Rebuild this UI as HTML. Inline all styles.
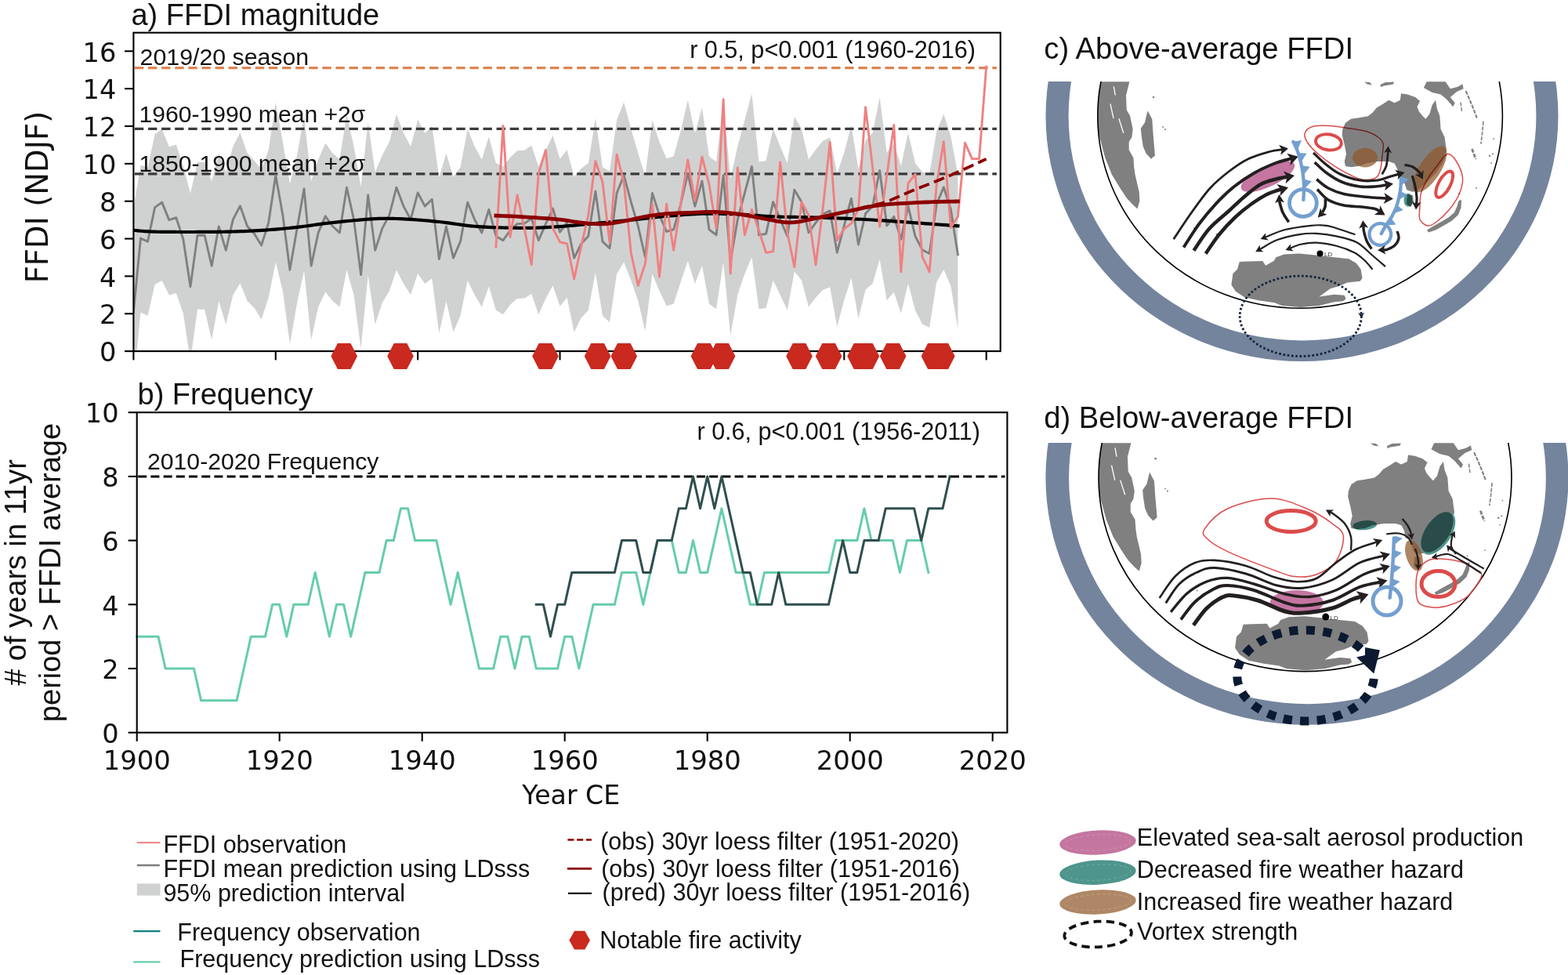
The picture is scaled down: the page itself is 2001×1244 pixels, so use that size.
<!DOCTYPE html><html><head><meta charset="utf-8"><title>FFDI figure</title>
<style>html,body{margin:0;padding:0;background:#fff;}svg{display:block;}</style></head><body>
<svg width="2001" height="1244" viewBox="0 0 2001 1244">
<rect width="2001" height="1244" fill="#fff"/>
<defs><clipPath id="clipA"><rect x="170.4" y="41.7" width="1106.3" height="406.4"/></clipPath></defs>
<g clip-path="url(#clipA)">
<polygon fill="#d0d2d1" points="170.4,265.36 179.47,210.76 188.54,213.32 197.61,171.29 206.68,164.83 215.75,187.32 224.81,184.45 233.88,211.8 242.95,246.77 252.02,206.94 261.09,206.94 270.16,231.36 279.23,195.69 288.3,219.85 297.37,186.84 306.44,169.37 315.5,195.21 324.57,205.02 333.64,216.1 342.71,190.91 351.78,130.38 360.85,181.1 369.92,234.28 378.99,199.04 388.06,147.36 397.12,231.36 406.19,203.59 415.26,182.53 424.33,195.21 433.4,203.59 442.47,145.93 451.54,186.84 460.61,237.89 469.68,155.74 478.75,219.85 487.82,198.08 496.88,181.1 505.95,145.93 515.02,169.85 524.09,186.84 533.16,152.63 542.23,169.85 551.3,161 560.37,226.37 569.44,195.69 578.5,225.54 587.57,213.32 596.64,164.83 605.71,186.84 614.78,203.59 623.85,174.16 632.92,207.89 641.99,212.49 651.06,200.72 660.13,192.34 669.2,191.86 678.26,185.4 687.33,212.49 696.4,192.34 705.47,172.72 714.54,202.87 723.61,190.91 732.68,225.54 741.75,214.99 750.82,207.89 759.88,150.71 768.95,213.32 778.02,218.32 787.09,153.1 796.16,130.38 805.23,164.35 814.3,195.21 823.37,224.84 832.44,153.1 841.51,181.1 850.58,202.15 859.64,199.52 868.71,166.98 877.78,127.74 886.85,169.85 895.92,137.55 904.99,199.52 914.06,206.46 923.13,130.38 932.2,228.03 941.27,186.84 950.33,153.1 959.4,119.13 968.47,206.46 977.54,205.02 986.61,164.35 995.68,186.84 1004.75,207.89 1013.82,148.8 1022.89,164.35 1031.96,203.59 1041.02,190.91 1050.09,179.66 1059.16,175.59 1068.23,221.51 1077.3,194.5 1086.37,159.8 1095.44,215.54 1104.51,179.18 1113.58,169.61 1122.65,124.16 1131.71,194.73 1140.78,183.01 1149.85,211.66 1158.92,169.61 1167.99,208.13 1177.06,219.57 1186.13,222.2 1195.2,167.46 1204.27,145.45 1213.34,173.68 1222.4,223.04 1222.4,419.39 1213.34,365.03 1204.27,344.12 1195.2,360.08 1186.13,417.95 1177.06,413.41 1167.99,395.97 1158.92,361.77 1149.85,399.77 1140.78,372.82 1131.71,383.23 1122.65,330.99 1113.58,361.77 1104.51,369.57 1095.44,406.47 1086.37,354.25 1077.3,383.01 1068.23,416.76 1059.16,366.59 1050.09,369.97 1041.02,379.75 1031.96,391.54 1022.89,357.68 1013.82,346.39 1004.75,395.73 995.68,376.14 986.61,357.68 977.54,392.93 968.47,394.33 959.4,328.22 950.33,349.39 941.27,376.14 932.2,428 923.13,334.59 914.06,394.33 904.99,387.68 895.92,338.98 886.85,361.96 877.78,333.04 868.71,359.71 859.64,387.68 850.58,390.17 841.51,371.19 832.44,349.39 823.37,422.5 814.3,383.67 805.23,357.68 796.16,334.59 787.09,349.39 778.02,411.26 768.95,402.64 759.88,347.71 750.82,395.73 741.75,405.51 732.68,423.7 723.61,379.75 714.54,390.86 705.47,364.26 696.4,381.05 687.33,401.21 678.26,374.89 669.2,380.62 660.13,381.05 651.06,388.8 641.99,401.21 632.92,395.73 623.85,365.42 614.78,391.54 605.71,376.14 596.64,358.04 587.57,402.64 578.5,423.7 569.44,384.11 560.37,425.13 551.3,355.14 542.23,361.96 533.16,349.05 524.09,376.14 515.02,361.96 505.95,344.44 496.88,371.19 487.82,386.33 478.75,413.89 469.68,351.27 460.61,444.99 451.54,376.14 442.47,344.44 433.4,391.54 424.33,383.67 415.26,372.41 406.19,391.54 397.12,433.75 388.06,345.41 378.99,387.23 369.92,438.77 360.85,371.19 351.78,334.59 342.71,379.75 333.64,407.43 324.57,392.93 315.5,383.67 306.44,361.58 297.37,376.14 288.3,413.89 279.23,384.11 270.16,433.75 261.09,394.79 252.02,394.79 242.95,460.3 233.88,400.01 224.81,374.06 215.75,376.56 206.68,358.04 197.61,363.1 188.54,402.64 179.47,398.58 170.4,492.36"/>
<line x1="171.9" y1="86.59" x2="1272" y2="86.59" stroke="#dd8452" stroke-width="3.2" stroke-dasharray="11.4 5.7"/>
<line x1="171.9" y1="164.4" x2="1272" y2="164.4" stroke="#3b3b3b" stroke-width="3.2" stroke-dasharray="11.4 5.7"/>
<line x1="171.9" y1="221.8" x2="1272" y2="221.8" stroke="#3b3b3b" stroke-width="3.2" stroke-dasharray="11.4 5.7"/>
<polyline fill="none" stroke="#808080" stroke-width="2.9" stroke-linejoin="round" stroke-linecap="square" points="170.4,397.86 179.47,304.07 188.54,308.14 197.61,264.6 206.68,258.14 215.75,280.62 224.81,277.75 233.88,305.51 242.95,365.8 252.02,300.24 261.09,300.24 270.16,339.24 279.23,289 288.3,319.38 297.37,280.15 306.44,262.68 315.5,288.52 324.57,298.33 333.64,312.92 342.71,284.21 351.78,223.68 360.85,274.4 369.92,344.27 378.99,292.35 388.06,240.67 397.12,339.24 406.19,296.89 415.26,275.84 424.33,288.52 433.4,296.89 442.47,239.23 451.54,280.15 460.61,350.49 469.68,249.04 478.75,319.38 487.82,291.39 496.88,274.4 505.95,239.23 515.02,263.16 524.09,280.15 533.16,245.93 542.23,263.16 551.3,254.31 560.37,330.63 569.44,289 578.5,329.19 587.57,308.14 596.64,258.14 605.71,280.15 614.78,296.89 623.85,267.47 632.92,301.2 641.99,306.7 651.06,294.02 660.13,285.65 669.2,285.17 678.26,278.71 687.33,306.7 696.4,285.65 705.47,266.03 714.54,296.18 723.61,284.21 732.68,329.19 741.75,311.01 750.82,301.2 759.88,244.02 768.95,308.14 778.02,316.75 787.09,246.41 796.16,223.68 805.23,257.66 814.3,288.52 823.37,328 832.44,246.41 841.51,274.4 850.58,295.46 859.64,292.83 868.71,260.29 877.78,221.05 886.85,263.16 895.92,230.86 904.99,292.83 914.06,299.76 923.13,223.68 932.2,333.5 941.27,280.15 950.33,246.41 959.4,212.44 968.47,299.76 977.54,298.33 986.61,257.66 995.68,280.15 1004.75,301.2 1013.82,242.11 1022.89,257.66 1031.96,296.89 1041.02,284.21 1050.09,272.97 1059.16,268.9 1068.23,322.25 1077.3,287.8 1086.37,253.11 1095.44,311.97 1104.51,272.49 1113.58,262.92 1122.65,217.46 1131.71,288.04 1140.78,276.32 1149.85,305.27 1158.92,262.92 1167.99,301.44 1177.06,318.9 1186.13,323.45 1195.2,260.77 1204.27,238.76 1213.34,266.99 1222.4,324.89"/>
<polyline fill="none" stroke="#000" stroke-width="4.2" stroke-linejoin="round" stroke-linecap="square" points="170.4,293.78 172.94,294.01 176.11,294.34 180.04,294.73 184.84,295.11 190.66,295.45 197.61,295.7 201.07,295.77 204.93,295.83 209.14,295.88 213.63,295.92 218.35,295.95 223.23,295.97 228.21,295.98 233.25,295.99 238.27,295.99 243.22,295.99 248.03,295.98 252.66,295.97 257.03,295.95 261.09,295.94 266.36,295.91 271.32,295.89 276.03,295.85 280.53,295.81 284.9,295.76 289.17,295.69 293.4,295.61 297.66,295.5 301.98,295.37 306.44,295.22 311.01,295.04 315.65,294.83 320.32,294.61 325.01,294.36 329.67,294.1 334.29,293.82 338.84,293.53 343.29,293.22 347.61,292.91 351.78,292.59 356.75,292.17 361.49,291.74 366.05,291.28 370.48,290.81 374.85,290.32 379.2,289.81 383.58,289.29 388.06,288.76 392.47,288.21 396.7,287.63 400.86,287.04 405.06,286.43 409.4,285.81 413.99,285.19 418.93,284.58 424.33,283.97 428.29,283.56 432.56,283.12 437.09,282.66 441.8,282.19 446.64,281.73 451.54,281.27 456.44,280.83 461.28,280.41 465.99,280.03 470.52,279.7 474.79,279.41 478.75,279.19 484.09,278.96 488.88,278.82 493.28,278.76 497.45,278.79 501.55,278.87 505.74,279.02 510.18,279.2 515.02,279.43 519.19,279.64 523.51,279.9 527.96,280.19 532.51,280.52 537.13,280.88 541.79,281.27 546.48,281.68 551.15,282.11 555.79,282.56 560.37,283.02 564.9,283.52 569.44,284.09 573.97,284.7 578.5,285.34 583.04,285.99 587.57,286.63 592.11,287.25 596.64,287.82 601.18,288.33 605.71,288.76 610.25,289.12 614.78,289.43 619.32,289.69 623.85,289.92 628.38,290.11 632.92,290.26 637.45,290.4 641.99,290.51 646.52,290.6 651.06,290.67 655.55,290.74 659.98,290.79 664.37,290.83 668.76,290.84 673.16,290.82 677.61,290.78 682.13,290.7 686.75,290.57 691.5,290.41 696.4,290.2 700.62,289.97 704.95,289.71 709.37,289.41 713.87,289.08 718.43,288.72 723.04,288.34 727.68,287.94 732.34,287.54 737,287.12 741.64,286.71 746.25,286.29 750.82,285.89 755.38,285.48 759.99,285.06 764.63,284.63 769.29,284.19 773.95,283.74 778.59,283.29 783.2,282.83 787.76,282.38 792.26,281.93 796.69,281.49 801.01,281.05 805.23,280.62 810.13,280.12 814.88,279.61 819.5,279.1 824.02,278.6 828.47,278.1 832.87,277.61 837.26,277.14 841.65,276.68 846.08,276.25 850.58,275.84 855.11,275.44 859.64,275.05 864.18,274.66 868.71,274.29 873.25,273.94 877.78,273.62 882.32,273.33 886.85,273.08 891.39,272.88 895.92,272.73 900.45,272.64 904.99,272.59 909.52,272.6 914.06,272.64 918.59,272.71 923.13,272.82 927.66,272.95 932.2,273.1 936.73,273.27 941.27,273.45 945.8,273.66 950.33,273.91 954.87,274.21 959.4,274.53 963.94,274.87 968.47,275.2 973.01,275.53 977.54,275.83 982.08,276.1 986.61,276.32 991.14,276.49 995.68,276.62 1000.21,276.73 1004.75,276.82 1009.28,276.89 1013.82,276.95 1018.35,277.01 1022.89,277.08 1027.42,277.17 1031.96,277.28 1036.49,277.4 1041.02,277.52 1045.56,277.64 1050.09,277.77 1054.63,277.9 1059.16,278.04 1063.7,278.19 1068.23,278.35 1072.77,278.53 1077.3,278.71 1081.79,278.91 1086.22,279.11 1090.62,279.31 1095,279.53 1099.41,279.76 1103.85,280 1108.37,280.25 1113,280.52 1117.74,280.8 1122.65,281.1 1126.89,281.37 1131.29,281.66 1135.82,281.97 1140.45,282.29 1145.13,282.62 1149.85,282.96 1154.57,283.3 1159.26,283.64 1163.88,283.97 1168.41,284.3 1172.81,284.62 1177.06,284.93 1182.16,285.3 1187.43,285.69 1192.76,286.08 1198.03,286.47 1203.13,286.85 1207.97,287.21 1212.42,287.54 1216.38,287.83 1219.75,288.08 1222.4,288.28"/>
<polyline fill="none" stroke="#f08080" stroke-width="2.9" stroke-linejoin="round" stroke-linecap="square" points="632.92,315.32 641.99,160.52 651.06,302.64 660.13,249.04 669.2,291.39 678.26,337.81 687.33,221.05 696.4,191.38 705.47,291.39 714.54,308.86 723.61,311.01 732.68,355.99 741.75,313.88 750.82,274.4 759.88,205.5 768.95,232.3 778.02,309.57 787.09,197.13 796.16,232.3 805.23,322.25 814.3,364.36 823.37,336.37 832.44,260.29 841.51,353.12 850.58,260.29 859.64,319.38 868.71,260.29 877.78,204.07 886.85,256.22 895.92,200 904.99,235.17 914.06,291.39 923.13,126.79 932.2,349.05 941.27,213.87 950.33,299.76 959.4,267.47 968.47,294.02 977.54,322.25 986.61,320.82 995.68,206.94 1004.75,296.89 1013.82,340.68 1022.89,257.66 1031.96,274.4 1041.02,337.81 1050.09,266.03 1059.16,181.58 1068.23,306.7 1077.3,291.87 1086.37,285.17 1095.44,266.75 1104.51,136.6 1113.58,213.63 1122.65,289 1131.71,224.16 1140.78,159.56 1149.85,346.9 1158.92,233.97 1167.99,222.25 1177.06,327.52 1186.13,346.9 1195.2,235.65 1204.27,180.62 1213.34,290.43 1222.4,276.32 1231.47,182.29 1240.54,202.63 1249.61,202.63 1258.68,85.16"/>
<polyline fill="none" stroke="#8b0000" stroke-width="4.8" stroke-linejoin="round" stroke-linecap="square" points="632.92,275.12 635.66,275.24 639.22,275.38 643.47,275.55 648.22,275.75 653.33,275.97 658.64,276.22 663.98,276.5 669.2,276.8 673.46,277.06 678.05,277.36 682.85,277.68 687.77,278.02 692.72,278.37 697.6,278.73 702.32,279.09 706.78,279.45 710.88,279.8 714.54,280.15 720.53,280.84 725.24,281.54 729.23,282.24 733.04,282.9 737.21,283.5 741.82,284.05 746.5,284.57 751.14,285.03 755.64,285.41 759.88,285.65 764.63,285.79 768.95,285.78 773.28,285.59 778.02,285.17 782.27,284.64 786.77,283.94 791.41,283.12 796.09,282.24 800.7,281.34 805.16,280.39 809.55,279.35 813.97,278.28 818.54,277.25 823.37,276.32 827.59,275.61 831.93,274.94 836.4,274.3 841,273.71 845.73,273.19 850.58,272.73 854.87,272.41 859.31,272.15 863.86,271.94 868.48,271.76 873.12,271.61 877.74,271.46 882.32,271.29 886.89,271.1 891.52,270.88 896.16,270.66 900.77,270.47 905.32,270.34 909.76,270.28 914.06,270.34 918.85,270.54 923.46,270.87 927.94,271.29 932.36,271.8 936.78,272.36 941.27,272.97 945.75,273.63 950.17,274.37 954.59,275.17 959.07,276.01 963.68,276.88 968.47,277.75 972.89,278.58 977.61,279.51 982.47,280.47 987.32,281.42 992,282.28 996.35,282.99 1000.21,283.5 1005.7,283.89 1010.13,283.84 1014.14,283.5 1018.35,283.02 1022.78,282.37 1027.14,281.49 1031.64,280.48 1036.49,279.43 1040.66,278.57 1045.01,277.66 1049.55,276.7 1054.26,275.7 1059.16,274.64 1063.49,273.7 1068.06,272.69 1072.77,271.65 1077.47,270.61 1082.04,269.6 1086.37,268.66 1091.19,267.6 1095.76,266.58 1100.19,265.61 1104.58,264.71 1109.04,263.88 1113.5,263.13 1117.89,262.44 1122.32,261.83 1126.89,261.27 1131.71,260.77 1135.93,260.4 1140.28,260.09 1144.75,259.83 1149.35,259.58 1154.07,259.34 1158.92,259.09 1163.22,258.87 1167.66,258.64 1172.21,258.42 1176.82,258.21 1181.46,258.01 1186.09,257.82 1190.66,257.66 1195.47,257.51 1200.66,257.38 1205.93,257.26 1211.02,257.16 1215.65,257.07 1219.54,257 1222.4,256.94"/>
<polyline fill="none" stroke="#8b0000" stroke-width="3.8" stroke-dasharray="14 6.5" points="1095.44,266.27 1098.7,265.51 1103.37,264.42 1108.62,263.17 1113.58,261.96 1117.81,261 1121.85,260.12 1126.29,258.97 1131.71,257.18 1136.15,255.45 1141.15,253.34 1146.51,251 1152,248.57 1157.42,246.2 1162.55,244.02 1167.39,242.04 1172.12,240.15 1176.78,238.31 1181.39,236.49 1186.01,234.65 1190.66,232.78 1195.21,230.92 1199.6,229.14 1203.98,227.35 1208.53,225.46 1213.41,223.38 1218.78,221.05 1223.47,218.96 1228.86,216.53 1234.63,213.91 1240.49,211.23 1246.12,208.64 1251.23,206.29 1255.52,204.32 1258.68,202.87"/>
</g>
<rect x="170.4" y="41.7" width="1106.3" height="406.4" fill="none" stroke="#000" stroke-width="2.1"/>
<line x1="159" y1="448.1" x2="170.4" y2="448.1" stroke="#000" stroke-width="2.1"/>
<text x="148.3" y="461.3" font-family="'DejaVu Sans', sans-serif" font-size="33.6" text-anchor="end" fill="#111">0</text>
<line x1="159" y1="400.25" x2="170.4" y2="400.25" stroke="#000" stroke-width="2.1"/>
<text x="148.3" y="413.45" font-family="'DejaVu Sans', sans-serif" font-size="33.6" text-anchor="end" fill="#111">2</text>
<line x1="159" y1="352.4" x2="170.4" y2="352.4" stroke="#000" stroke-width="2.1"/>
<text x="148.3" y="365.6" font-family="'DejaVu Sans', sans-serif" font-size="33.6" text-anchor="end" fill="#111">4</text>
<line x1="159" y1="304.55" x2="170.4" y2="304.55" stroke="#000" stroke-width="2.1"/>
<text x="148.3" y="317.75" font-family="'DejaVu Sans', sans-serif" font-size="33.6" text-anchor="end" fill="#111">6</text>
<line x1="159" y1="256.7" x2="170.4" y2="256.7" stroke="#000" stroke-width="2.1"/>
<text x="148.3" y="269.9" font-family="'DejaVu Sans', sans-serif" font-size="33.6" text-anchor="end" fill="#111">8</text>
<line x1="159" y1="208.85" x2="170.4" y2="208.85" stroke="#000" stroke-width="2.1"/>
<text x="148.3" y="222.05" font-family="'DejaVu Sans', sans-serif" font-size="33.6" text-anchor="end" fill="#111">10</text>
<line x1="159" y1="161" x2="170.4" y2="161" stroke="#000" stroke-width="2.1"/>
<text x="148.3" y="174.2" font-family="'DejaVu Sans', sans-serif" font-size="33.6" text-anchor="end" fill="#111">12</text>
<line x1="159" y1="113.15" x2="170.4" y2="113.15" stroke="#000" stroke-width="2.1"/>
<text x="148.3" y="126.35" font-family="'DejaVu Sans', sans-serif" font-size="33.6" text-anchor="end" fill="#111">14</text>
<line x1="159" y1="65.3" x2="170.4" y2="65.3" stroke="#000" stroke-width="2.1"/>
<text x="148.3" y="78.5" font-family="'DejaVu Sans', sans-serif" font-size="33.6" text-anchor="end" fill="#111">16</text>
<line x1="170.4" y1="448.1" x2="170.4" y2="459.4" stroke="#000" stroke-width="2.1"/>
<line x1="351.78" y1="448.1" x2="351.78" y2="459.4" stroke="#000" stroke-width="2.1"/>
<line x1="533.16" y1="448.1" x2="533.16" y2="459.4" stroke="#000" stroke-width="2.1"/>
<line x1="714.54" y1="448.1" x2="714.54" y2="459.4" stroke="#000" stroke-width="2.1"/>
<line x1="895.92" y1="448.1" x2="895.92" y2="459.4" stroke="#000" stroke-width="2.1"/>
<line x1="1077.3" y1="448.1" x2="1077.3" y2="459.4" stroke="#000" stroke-width="2.1"/>
<line x1="1258.68" y1="448.1" x2="1258.68" y2="459.4" stroke="#000" stroke-width="2.1"/>
<polygon fill="#c9291e" points="422.4,454.6 430.9,438.1 447.5,438.1 456,454.6 447.5,471.1 430.9,471.1"/>
<polygon fill="#c9291e" points="494.2,454.6 502.7,438.1 519.3,438.1 527.8,454.6 519.3,471.1 502.7,471.1"/>
<polygon fill="#c9291e" points="679.2,454.6 687.7,438.1 704.3,438.1 712.8,454.6 704.3,471.1 687.7,471.1"/>
<polygon fill="#c9291e" points="745.8,454.6 754.3,438.1 770.9,438.1 779.4,454.6 770.9,471.1 754.3,471.1"/>
<polygon fill="#c9291e" points="779.5,454.6 788,438.1 804.6,438.1 813.1,454.6 804.6,471.1 788,471.1"/>
<polygon fill="#c9291e" points="881.6,454.6 890.1,438.1 906.7,438.1 915.2,454.6 906.7,471.1 890.1,471.1"/>
<polygon fill="#c9291e" points="904.8,454.6 913.3,438.1 929.9,438.1 938.4,454.6 929.9,471.1 913.3,471.1"/>
<polygon fill="#c9291e" points="1003.2,454.6 1011.7,438.1 1028.3,438.1 1036.8,454.6 1028.3,471.1 1011.7,471.1"/>
<polygon fill="#c9291e" points="1040.8,454.6 1049.3,438.1 1065.9,438.1 1074.4,454.6 1065.9,471.1 1049.3,471.1"/>
<polygon fill="#c9291e" points="1081.2,454.6 1089.7,438.1 1106.3,438.1 1114.8,454.6 1106.3,471.1 1089.7,471.1"/>
<polygon fill="#c9291e" points="1088.6,454.6 1097.1,438.1 1113.7,438.1 1122.2,454.6 1113.7,471.1 1097.1,471.1"/>
<polygon fill="#c9291e" points="1122.8,454.6 1131.3,438.1 1147.9,438.1 1156.4,454.6 1147.9,471.1 1131.3,471.1"/>
<polygon fill="#c9291e" points="1175.6,454.6 1184.1,438.1 1200.7,438.1 1209.2,454.6 1200.7,471.1 1184.1,471.1"/>
<polygon fill="#c9291e" points="1185,454.6 1193.5,438.1 1210.1,438.1 1218.6,454.6 1210.1,471.1 1193.5,471.1"/>
<text x="167.4" y="31.8" font-family="'Liberation Sans', Arial, sans-serif" font-size="38" fill="#111">a) FFDI magnitude</text>
<text x="178.6" y="82.8" font-family="'Liberation Sans', Arial, sans-serif" font-size="30.3" fill="#111">2019/20 season</text>
<text x="1245" y="73.6" font-family="'Liberation Sans', Arial, sans-serif" font-size="30.6" text-anchor="end" fill="#111">r 0.5, p&lt;0.001 (1960-2016)</text>
<text x="177.6" y="155.9" font-family="'Liberation Sans', Arial, sans-serif" font-size="30.1" fill="#111">1960-1990 mean +2σ</text>
<text x="177.6" y="219.1" font-family="'Liberation Sans', Arial, sans-serif" font-size="30.1" fill="#111">1850-1900 mean +2σ</text>
<text transform="translate(61.2,251.6) rotate(-90)" font-family="'DejaVu Sans', sans-serif" font-size="38.5" text-anchor="middle" fill="#111">FFDI (NDJF)</text>
<line x1="176.2" y1="607.9" x2="1282.5" y2="607.9" stroke="#000" stroke-width="3" stroke-dasharray="11 5.2"/>
<polyline fill="none" stroke="#66cdaa" stroke-width="3" stroke-linejoin="round" stroke-linecap="square" points="174.7,812.15 183.8,812.15 192.9,812.15 202,812.15 211.1,853 220.2,853 229.3,853 238.4,853 247.5,853 256.6,893.85 265.7,893.85 274.8,893.85 283.9,893.85 293,893.85 302.1,893.85 311.2,853 320.3,812.15 329.4,812.15 338.5,812.15 347.6,771.3 356.7,771.3 365.8,812.15 374.9,771.3 384,771.3 393.1,771.3 402.2,730.45 411.3,771.3 420.4,812.15 429.5,771.3 438.6,771.3 447.7,812.15 456.8,771.3 465.9,730.45 475,730.45 484.1,730.45 493.2,689.6 502.3,689.6 511.4,648.75 520.5,648.75 529.6,689.6 538.7,689.6 547.8,689.6 556.9,689.6 566,730.45 575.1,771.3 584.2,730.45 593.3,771.3 602.4,812.15 611.5,853 620.6,853 629.7,853 638.8,812.15 647.9,812.15 657,853 666.1,812.15 675.2,812.15 684.3,853 693.4,853 702.5,853 711.6,853 720.7,812.15 729.8,812.15 738.9,853 748,812.15 757.1,771.3 766.2,771.3 775.3,771.3 784.4,771.3 793.5,730.45 802.6,730.45 811.7,730.45 820.8,771.3 829.9,730.45 839,689.6 848.1,689.6 857.2,689.6 866.3,730.45 875.4,730.45 884.5,689.6 893.6,730.45 902.7,730.45 911.8,689.6 920.9,648.75 930,689.6 939.1,730.45 948.2,730.45 957.3,771.3 966.4,771.3 975.5,730.45 984.6,730.45 993.7,730.45 1002.8,730.45 1011.9,730.45 1021,730.45 1030.1,730.45 1039.2,730.45 1048.3,730.45 1057.4,730.45 1066.5,689.6 1075.6,689.6 1084.7,689.6 1093.8,689.6 1102.9,648.75 1112,689.6 1121.1,689.6 1130.2,689.6 1139.3,689.6 1148.4,730.45 1157.5,689.6 1166.6,689.6 1175.7,689.6 1184.8,730.45"/>
<polyline fill="none" stroke="#2f4f4f" stroke-width="3" stroke-linejoin="round" stroke-linecap="square" points="684.3,771.3 693.4,771.3 702.5,812.15 711.6,771.3 720.7,771.3 729.8,730.45 738.9,730.45 748,730.45 757.1,730.45 766.2,730.45 775.3,730.45 784.4,730.45 793.5,689.6 802.6,689.6 811.7,689.6 820.8,730.45 829.9,730.45 839,689.6 848.1,689.6 857.2,689.6 866.3,648.75 875.4,648.75 884.5,607.9 893.6,648.75 902.7,607.9 911.8,648.75 920.9,607.9 930,648.75 939.1,689.6 948.2,730.45 957.3,730.45 966.4,771.3 975.5,771.3 984.6,771.3 993.7,730.45 1002.8,771.3 1011.9,771.3 1021,771.3 1030.1,771.3 1039.2,771.3 1048.3,771.3 1057.4,771.3 1066.5,730.45 1075.6,689.6 1084.7,730.45 1093.8,730.45 1102.9,689.6 1112,689.6 1121.1,689.6 1130.2,648.75 1139.3,648.75 1148.4,648.75 1157.5,648.75 1166.6,648.75 1175.7,689.6 1184.8,648.75 1193.9,648.75 1203,648.75 1212.1,607.9"/>
<rect x="174.7" y="526.2" width="1110.7" height="408.5" fill="none" stroke="#000" stroke-width="2.1"/>
<line x1="163.6" y1="934.7" x2="174.7" y2="934.7" stroke="#000" stroke-width="2.1"/>
<text x="151.5" y="947.9" font-family="'DejaVu Sans', sans-serif" font-size="33.6" text-anchor="end" fill="#111">0</text>
<line x1="163.6" y1="853" x2="174.7" y2="853" stroke="#000" stroke-width="2.1"/>
<text x="151.5" y="866.2" font-family="'DejaVu Sans', sans-serif" font-size="33.6" text-anchor="end" fill="#111">2</text>
<line x1="163.6" y1="771.3" x2="174.7" y2="771.3" stroke="#000" stroke-width="2.1"/>
<text x="151.5" y="784.5" font-family="'DejaVu Sans', sans-serif" font-size="33.6" text-anchor="end" fill="#111">4</text>
<line x1="163.6" y1="689.6" x2="174.7" y2="689.6" stroke="#000" stroke-width="2.1"/>
<text x="151.5" y="702.8" font-family="'DejaVu Sans', sans-serif" font-size="33.6" text-anchor="end" fill="#111">6</text>
<line x1="163.6" y1="607.9" x2="174.7" y2="607.9" stroke="#000" stroke-width="2.1"/>
<text x="151.5" y="621.1" font-family="'DejaVu Sans', sans-serif" font-size="33.6" text-anchor="end" fill="#111">8</text>
<line x1="163.6" y1="526.2" x2="174.7" y2="526.2" stroke="#000" stroke-width="2.1"/>
<text x="151.5" y="539.4" font-family="'DejaVu Sans', sans-serif" font-size="33.6" text-anchor="end" fill="#111">10</text>
<line x1="174.7" y1="934.7" x2="174.7" y2="945.8" stroke="#000" stroke-width="2.1"/>
<text x="174.7" y="982.4" font-family="'DejaVu Sans', sans-serif" font-size="33.8" text-anchor="middle" fill="#111">1900</text>
<line x1="356.7" y1="934.7" x2="356.7" y2="945.8" stroke="#000" stroke-width="2.1"/>
<text x="356.7" y="982.4" font-family="'DejaVu Sans', sans-serif" font-size="33.8" text-anchor="middle" fill="#111">1920</text>
<line x1="538.7" y1="934.7" x2="538.7" y2="945.8" stroke="#000" stroke-width="2.1"/>
<text x="538.7" y="982.4" font-family="'DejaVu Sans', sans-serif" font-size="33.8" text-anchor="middle" fill="#111">1940</text>
<line x1="720.7" y1="934.7" x2="720.7" y2="945.8" stroke="#000" stroke-width="2.1"/>
<text x="720.7" y="982.4" font-family="'DejaVu Sans', sans-serif" font-size="33.8" text-anchor="middle" fill="#111">1960</text>
<line x1="902.7" y1="934.7" x2="902.7" y2="945.8" stroke="#000" stroke-width="2.1"/>
<text x="902.7" y="982.4" font-family="'DejaVu Sans', sans-serif" font-size="33.8" text-anchor="middle" fill="#111">1980</text>
<line x1="1084.7" y1="934.7" x2="1084.7" y2="945.8" stroke="#000" stroke-width="2.1"/>
<text x="1084.7" y="982.4" font-family="'DejaVu Sans', sans-serif" font-size="33.8" text-anchor="middle" fill="#111">2000</text>
<line x1="1266.7" y1="934.7" x2="1266.7" y2="945.8" stroke="#000" stroke-width="2.1"/>
<text x="1266.7" y="982.4" font-family="'DejaVu Sans', sans-serif" font-size="33.8" text-anchor="middle" fill="#111">2020</text>
<text x="728.8" y="1026.1" font-family="'DejaVu Sans', sans-serif" font-size="33.2" text-anchor="middle" fill="#111">Year CE</text>
<text x="175.5" y="515.6" font-family="'Liberation Sans', Arial, sans-serif" font-size="38" fill="#111">b) Frequency</text>
<text x="188" y="599" font-family="'Liberation Sans', Arial, sans-serif" font-size="30.2" fill="#111">2010-2020 Frequency</text>
<text x="1251" y="560.9" font-family="'Liberation Sans', Arial, sans-serif" font-size="30.5" text-anchor="end" fill="#111">r 0.6, p&lt;0.001 (1956-2011)</text>
<text transform="translate(33,730.5) rotate(-90)" font-family="'Liberation Sans', Arial, sans-serif" font-size="38" text-anchor="middle" fill="#111"># of years in 11yr</text>
<text transform="translate(77.2,730.5) rotate(-90)" font-family="'Liberation Sans', Arial, sans-serif" font-size="38" text-anchor="middle" fill="#111">period &gt; FFDI average</text>
<line x1="174.8" y1="1075.1" x2="204.5" y2="1075.1" stroke="#f08080" stroke-width="2"/>
<text x="208.4" y="1087.8" font-family="'Liberation Sans', Arial, sans-serif" font-size="30.5" fill="#111">FFDI observation</text>
<line x1="174.8" y1="1104" x2="203.8" y2="1104" stroke="#808080" stroke-width="2.6"/>
<text x="208.4" y="1118.8" font-family="'Liberation Sans', Arial, sans-serif" font-size="30.5" fill="#111">FFDI mean prediction using LDsss</text>
<rect x="174.8" y="1127.4" width="29.7" height="15.2" fill="#d0d2d1"/>
<text x="208.4" y="1149.8" font-family="'Liberation Sans', Arial, sans-serif" font-size="30.5" fill="#111">95% prediction interval</text>
<line x1="170.3" y1="1188.2" x2="204.5" y2="1188.2" stroke="#0e7f80" stroke-width="2.3"/>
<text x="226.3" y="1200.3" font-family="'Liberation Sans', Arial, sans-serif" font-size="30.5" fill="#111">Frequency observation</text>
<line x1="170.3" y1="1227.3" x2="204.5" y2="1227.3" stroke="#66cdaa" stroke-width="2.3"/>
<text x="229.5" y="1233.5" font-family="'Liberation Sans', Arial, sans-serif" font-size="30.5" fill="#111">Frequency prediction using LDsss</text>
<line x1="724.4" y1="1071.5" x2="755" y2="1071.5" stroke="#8b0000" stroke-width="2.4" stroke-dasharray="8.1 3.7"/>
<text x="766.2" y="1084.1" font-family="'Liberation Sans', Arial, sans-serif" font-size="30.5" fill="#111">(obs) 30yr loess filter (1951-2020)</text>
<line x1="724" y1="1108.3" x2="755" y2="1108.3" stroke="#8b0000" stroke-width="2.8"/>
<text x="767.2" y="1118.6" font-family="'Liberation Sans', Arial, sans-serif" font-size="30.5" fill="#111">(obs) 30yr loess filter (1951-2016)</text>
<line x1="725" y1="1139.8" x2="755" y2="1139.8" stroke="#000" stroke-width="2.1"/>
<text x="768.6" y="1149.4" font-family="'Liberation Sans', Arial, sans-serif" font-size="30.5" fill="#111">(pred) 30yr loess filter (1951-2016)</text>
<polygon fill="#c9291e" points="726.4,1199.7 733.1,1187.8 746.3,1187.8 753,1199.7 746.3,1211.6 733.1,1211.6"/>
<text x="765.2" y="1210" font-family="'Liberation Sans', Arial, sans-serif" font-size="30.5" fill="#111">Notable fire activity</text>
<g transform="rotate(-3 1401 1075)"><ellipse cx="1401" cy="1075" rx="48.8" ry="15.6" fill="#c476a0"/>
<ellipse cx="1401" cy="1075" rx="41.8" ry="10" fill="none" stroke="#fff" stroke-opacity="0.3" stroke-width="0.6" stroke-dasharray="4 3"/></g>
<g transform="rotate(-3 1401 1113.2)"><ellipse cx="1401" cy="1113.2" rx="48.8" ry="15.6" fill="#4e958c"/>
<ellipse cx="1401" cy="1113.2" rx="41.8" ry="10" fill="none" stroke="#fff" stroke-opacity="0.3" stroke-width="0.6" stroke-dasharray="4 3"/></g>
<g transform="rotate(-3 1401 1151)"><ellipse cx="1401" cy="1151" rx="48.8" ry="15.6" fill="#af8766"/>
<ellipse cx="1401" cy="1151" rx="41.8" ry="10" fill="none" stroke="#fff" stroke-opacity="0.3" stroke-width="0.6" stroke-dasharray="4 3"/></g>
<ellipse cx="1401.1" cy="1192" rx="42.9" ry="16.3" fill="none" stroke="#111" stroke-width="3.8" stroke-dasharray="10 6.28" stroke-dashoffset="5" transform="rotate(-3 1401.1 1192)"/>
<text x="1450.8" y="1079.1" font-family="'Liberation Sans', Arial, sans-serif" font-size="30.5" fill="#111">Elevated sea-salt aerosol production</text>
<text x="1450.8" y="1120.3" font-family="'Liberation Sans', Arial, sans-serif" font-size="30.5" fill="#111">Decreased fire weather hazard</text>
<text x="1450.8" y="1161.2" font-family="'Liberation Sans', Arial, sans-serif" font-size="30.5" fill="#111">Increased fire weather hazard</text>
<text x="1451" y="1199" font-family="'Liberation Sans', Arial, sans-serif" font-size="30.5" fill="#111">Vortex strength</text>
<defs><clipPath id="cclipTop"><rect x="1300" y="104" width="720" height="400"/></clipPath>
<clipPath id="cclipMap"><ellipse cx="1659.1" cy="148" rx="258.3" ry="245.3"/></clipPath></defs>
<g clip-path="url(#cclipTop)">
<path fill="#74849d" fill-rule="evenodd" d="M1334.5,148 a327,313 0 1,0 654,0 a327,313 0 1,0 -654,0 Z M1363.6,148 a298.4,286.3 0 1,0 596.8,0 a298.4,286.3 0 1,0 -596.8,0 Z"/>
<g clip-path="url(#cclipMap)">
<polygon fill="#808080" points="1405.2,104.3 1441.4,104.3 1437,121.7 1437.8,140.5 1442.1,147.8 1445.7,165.1 1444.3,175.3 1440.7,181 1440.7,191.2 1446.4,201.3 1447.2,212.9 1448.6,223 1453.7,244.7 1454.4,256.3 1451.5,266.4 1445,260.6 1438,253 1430.5,241.8 1419,223 1410.3,201.3 1404.5,179.6 1401,165 1400,140 1401,120"/>
<polygon fill="#808080" points="1464.5,141.2 1470.3,152.1 1471.5,170 1473.2,189.7 1473.9,198.4 1468.9,202.7 1462.4,195.5 1458.7,186.8 1456.6,172.4 1455.8,163.7 1460.9,156.4"/>
<polygon fill="#808080" points="1716.9,156.7 1713.3,165.1 1712.7,172.3 1715.7,184.4 1718.1,196.4 1715.7,206.1 1716.9,212.1 1724.1,213.3 1733.8,212.1 1743.4,208.5 1757.9,206.1 1772.3,206.1 1779.6,208.5 1783.2,215.7 1784.4,224.2 1789.2,226.6 1792.8,235 1795.2,242.3 1802.5,244.7 1808.5,243.5 1820.6,232.6 1832.6,220.6 1842.3,206.1 1845.9,191.6 1843.5,174.7 1838.6,165.1 1837.4,148.2 1833.8,138.6 1832,127.7 1827.8,133.8 1824.2,145.8 1819.3,151.8 1815.7,148.2 1810.9,142.2 1808.5,136.2 1812.1,128.9 1806.1,124.1 1796.4,120.5 1788,119.3 1786.8,127.7 1779.6,131.3 1772.3,127.7 1765.1,132.5 1756.7,137.4 1751.8,143.4 1745.8,148.2 1732.5,150.6 1724.1,151.8"/>
<polygon fill="#808080" points="1796,248 1803,249 1804,258 1800,264.5 1795,260"/>
<polygon fill="#808080" points="1816.9,112.1 1820.6,104.3 1844.7,104.3 1850.7,113.3 1860.3,110.8 1866.4,107.2 1867.6,113.3 1859.1,116.9 1850.7,124.1 1856.7,131.3 1854.3,136.2 1845.9,126.5 1838.6,120.5 1827.8,118.1"/>
<polygon fill="#808080" points="1741,104.5 1748,105 1751,108.5 1745,107.5"/>
<polygon fill="#808080" points="1761.5,108 1768,105 1779,104.5 1778,107.5 1766,109.5 1762,111"/>
<polygon fill="#808080" points="1865,255 1864.5,265 1861,274 1853,281.5 1843,287.5 1832,293.5 1823,296.5 1821,293.5 1830,288 1840,282.5 1849,277 1856,271 1859.5,263 1861.5,256"/>
<polygon fill="#808080" points="1571.4,363.4 1573.3,349.2 1579,343.5 1581.8,334 1593.2,333.5 1611.3,333 1615.1,338.7 1625.5,333 1628.4,328.3 1638.8,324.5 1657.8,323.5 1678.7,325.4 1693,327.3 1712,329.2 1721.4,330.2 1731,335.9 1736.6,343.5 1738.5,354.9 1735.7,358.7 1719.5,360.6 1708.1,365.3 1697.7,368.2 1683.5,378.6 1702.5,375.8 1715.7,376.7 1717.6,381.5 1713.8,384.3 1702.5,385.3 1683.5,390 1659.7,391.9 1636,390 1626.5,386.2 1607.5,383.4 1588.5,379.6 1577.1,372"/>
<circle cx="1472" cy="124" r="1.3" fill="#808080"/>
<circle cx="1487" cy="165" r="1.1" fill="#808080"/>
<circle cx="1484" cy="162" r="0.9" fill="#808080"/>
<circle cx="1553" cy="299" r="1.3" fill="#808080"/>
<circle cx="1524" cy="291" r="0.9" fill="#808080"/>
<circle cx="1901" cy="199" r="1.2" fill="#808080"/>
<circle cx="1905" cy="196.5" r="1.1" fill="#808080"/>
<circle cx="1906" cy="177" r="0.9" fill="#808080"/>
<circle cx="1903" cy="208" r="0.9" fill="#808080"/>
<circle cx="1884" cy="240" r="0.9" fill="#808080"/>
<circle cx="1862" cy="247" r="0.9" fill="#808080"/>
<path fill="none" stroke="#808080" stroke-width="2" stroke-dasharray="5 1.5" d="M1870.5,116 C1876,128 1881,140 1885,151.4"/>
<path fill="none" stroke="#808080" stroke-width="1.6" stroke-dasharray="5 1.5" d="M1893,154.7 C1892,166 1891,175 1889.8,183.6"/>
<path fill="none" stroke="#808080" stroke-width="2.8" stroke-dasharray="5 1.5" d="M1878.6,190 C1880,195 1882,199 1883.4,202.9"/>
<path fill="none" stroke="#808080" stroke-width="1.5" stroke-dasharray="5 1.5" d="M1864,130.5 C1864.5,135 1865,139 1865.7,143.4"/>
<line x1="1421.3" y1="110.4" x2="1423.3" y2="121.5" stroke="#fff" stroke-width="1.3"/>
<line x1="1416.9" y1="132.5" x2="1421.1" y2="151.2" stroke="#fff" stroke-width="1.3"/>
<line x1="1427.9" y1="151.2" x2="1433.8" y2="169.9" stroke="#fff" stroke-width="1.3"/>
</g>
<ellipse cx="1659.1" cy="148" rx="258.3" ry="245.3" fill="none" stroke="#000" stroke-width="1.6"/>
</g>
<ellipse cx="1617.9" cy="225.2" rx="37.5" ry="13" fill="#c476a0" transform="rotate(-25 1617.9 225.2)"/>
<path fill="none" stroke="#dc4b4b" stroke-width="1.5" style="mix-blend-mode:multiply" d="M1664.9,170.9 C1665.73,167.15 1669.65,163.23 1675,161.5 C1680.35,159.77 1689.3,160.13 1697,160.5 C1704.7,160.87 1713.2,162.45 1721.2,163.7 C1729.2,164.95 1738.53,165.95 1745,168 C1751.47,170.05 1756.63,173.33 1760,176 C1763.37,178.67 1764.53,180.3 1765.2,184 C1765.87,187.7 1764.53,193.15 1764,198.2 C1763.47,203.25 1763.13,209.73 1762,214.3 C1760.87,218.87 1760.15,223.05 1757.2,225.6 C1754.25,228.15 1749.13,229.6 1744.3,229.6 C1739.47,229.6 1734.9,228.42 1728.2,225.6 C1721.5,222.78 1711.47,217.3 1704.1,212.7 C1696.73,208.1 1689.68,202.78 1684,198 C1678.32,193.22 1673.18,188.52 1670,184 C1666.82,179.48 1664.07,174.65 1664.9,170.9 Z"/>
<ellipse cx="1695.4" cy="181.4" rx="16.5" ry="10" fill="none" stroke="#dc4b4b" stroke-width="4" transform="rotate(8 1695.4 181.4)"/>
<ellipse cx="1742" cy="201.1" rx="16" ry="12.3" fill="rgb(143,88,42)" fill-opacity="0.72"/>
<ellipse cx="1824.7" cy="215.9" rx="34" ry="13.5" fill="rgb(143,88,42)" fill-opacity="0.72" transform="rotate(-57 1824.7 215.9)"/>
<path fill="none" stroke="#dc4b4b" stroke-width="1.5" style="mix-blend-mode:multiply" d="M1847,196.6 C1850.95,195.6 1854.75,199.93 1858,205 C1861.25,210.07 1865.83,219.83 1866.5,227 C1867.17,234.17 1864.92,241.17 1862,248 C1859.08,254.83 1854,262 1849,268 C1844,274 1836.58,280.67 1832,284 C1827.42,287.33 1824.83,288.67 1821.5,288 C1818.17,287.33 1813.62,283.67 1812,280 C1810.38,276.33 1811.57,271.58 1811.8,266 C1812.03,260.42 1811.7,252.83 1813.4,246.5 C1815.1,240.17 1818.52,233.92 1822,228 C1825.48,222.08 1830.13,216.23 1834.3,211 C1838.47,205.77 1843.05,197.6 1847,196.6 Z"/>
<ellipse cx="1843.2" cy="235.2" rx="18.5" ry="7.5" fill="none" stroke="#dc4b4b" stroke-width="4" transform="rotate(-62 1843.2 235.2)"/>
<ellipse cx="1797" cy="255.3" rx="5.5" ry="8.5" fill="#4e958c" style="mix-blend-mode:multiply"/>
<path fill="none" stroke="#231f20" stroke-width="2.8" d="M1497.7,305.1 C1501.42,299.58 1512.23,282.85 1520,272 C1527.77,261.15 1536.3,248.83 1544.3,240 C1552.3,231.17 1559.97,225.17 1568,219 C1576.03,212.83 1583.83,207.25 1592.5,203 C1601.17,198.75 1612.68,195.55 1620,193.5 C1627.32,191.45 1633.67,191.16 1636.41,190.7"/>
<polygon fill="#231f20" points="1644,189.4 1634.25,197.66 1635.87,190.79 1632.06,184.85"/>
<path fill="none" stroke="#231f20" stroke-width="4" d="M1510.5,315.6 C1513.75,310.67 1523.03,295.38 1530,286 C1536.97,276.62 1544.8,267.3 1552.3,259.3 C1559.8,251.3 1566.95,244.43 1575,238 C1583.05,231.57 1591.77,225.7 1600.6,220.7 C1609.43,215.7 1620.09,211.07 1628,208 C1635.91,204.93 1644.71,203.24 1648.05,202.29"/>
<polygon fill="#231f20" points="1656.8,199.8 1646.49,211.05 1647.42,202.47 1642.11,195.67"/>
<path fill="none" stroke="#231f20" stroke-width="4.5" d="M1523.4,319.6 C1526.67,315 1535.5,300.43 1543,292 C1550.5,283.57 1560.9,275.83 1568.4,269 C1575.9,262.17 1581.3,256.63 1588,251 C1594.7,245.37 1601.6,239.03 1608.6,235.2 C1615.6,231.37 1624.26,229.6 1630,228 C1635.74,226.4 1640.87,226.02 1643.05,225.63"/>
<polygon fill="#231f20" points="1652,224 1640.64,234.2 1642.41,225.74 1637.78,218.45"/>
<path fill="none" stroke="#231f20" stroke-width="4.5" d="M1538.7,323.6 C1541.58,319.5 1549.7,306.77 1556,299 C1562.3,291.23 1569.83,283.33 1576.5,277 C1583.17,270.67 1589.3,265.83 1596,261 C1602.7,256.17 1611.03,251 1616.7,248 C1622.37,245 1626.91,244.07 1630,243 C1633.09,241.93 1634.35,241.82 1635.22,241.58"/>
<polygon fill="#231f20" points="1644,239.2 1633.55,250.33 1634.59,241.75 1629.36,234.88"/>
<path fill="none" stroke="#231f20" stroke-width="3.2" d="M1676.1,195 C1678.42,197.17 1684.35,203.5 1690,208 C1695.65,212.5 1702.5,218.33 1710,222 C1717.5,225.67 1727,228.67 1735,230 C1743,231.33 1751.33,230.83 1758,230 C1764.67,229.17 1770.48,226.31 1775,225 C1779.52,223.69 1783.41,222.6 1785.1,222.12"/>
<polygon fill="#231f20" points="1792.5,220 1783.71,229.27 1784.57,222.27 1780.14,216.77"/>
<path fill="none" stroke="#231f20" stroke-width="3.6" d="M1677.7,207.1 C1680.08,209.25 1686.28,215.85 1692,220 C1697.72,224.15 1704.83,229 1712,232 C1719.17,235 1727.83,237 1735,238 C1742.17,239 1749.22,238.38 1755,238 C1760.78,237.62 1767.25,236.08 1769.7,235.7"/>
<polygon fill="#231f20" points="1778,234.4 1767.23,243.17 1769.11,235.79 1765.06,229.34"/>
<path fill="none" stroke="#231f20" stroke-width="3.6" d="M1680.2,228.8 C1682.67,230.67 1689.2,236.88 1695,240 C1700.8,243.12 1707.5,245.67 1715,247.5 C1722.5,249.33 1732.5,250.17 1740,251 C1747.5,251.83 1755.06,252.14 1760,252.5 C1764.94,252.86 1768.02,253.03 1769.62,253.14"/>
<polygon fill="#231f20" points="1778,253.7 1765.56,259.89 1769.02,253.1 1766.49,245.92"/>
<path fill="none" stroke="#231f20" stroke-width="3.6" d="M1681,241.6 C1683.33,243.83 1689.33,251.6 1695,255 C1700.67,258.4 1707.83,260.5 1715,262 C1722.17,263.5 1731.33,263.25 1738,264 C1744.67,264.75 1751.24,265.49 1755,266.5 C1758.76,267.51 1759.61,269.46 1760.53,270.06"/>
<polygon fill="#231f20" points="1767.6,274.6 1753.72,274 1760.03,269.73 1761.29,262.22"/>
<path fill="none" stroke="#739fd0" stroke-width="4.3" stroke-linecap="round" d="M1650.4,181 C1651.25,182.83 1653.98,188 1655.5,192 C1657.02,196 1658.33,200.33 1659.5,205 C1660.67,209.67 1661.75,214.67 1662.5,220 C1663.25,225.33 1663.85,231.17 1664,237 C1664.15,242.83 1663.5,252 1663.4,255"/>
<polygon fill="#739fd0" points="1651.59,180.42 1660.89,178.98 1656.37,190.32"/>
<polygon fill="#739fd0" points="1658.16,195.25 1667.56,195.45 1661.14,205.83"/>
<polygon fill="#739fd0" points="1662.44,211.52 1671.77,212.76 1664.23,222.37"/>
<polygon fill="#739fd0" points="1664.95,229 1674.06,231.33 1665.45,239.99"/>
<circle cx="1662.9" cy="259" r="17.4" fill="none" stroke="#739fd0" stroke-width="4.8"/>
<path fill="none" stroke="#231f20" stroke-width="3.6" d="M1644.6,283.4 C1643.33,281.33 1638.93,275.23 1637,271 C1635.07,266.77 1633.69,260.57 1633,258 C1632.31,255.43 1632.86,255.98 1632.83,255.58"/>
<polygon fill="#231f20" points="1632.3,247.9 1639.05,258.46 1632.87,256.13 1627.07,259.29"/>
<path fill="none" stroke="#231f20" stroke-width="3.6" d="M1691.4,253.9 C1691.33,255.58 1691.73,260.98 1691,264 C1690.27,267.02 1687.66,270.67 1687,272 C1686.34,273.33 1687.04,271.96 1687.04,271.96"/>
<polygon fill="#231f20" points="1681.7,277.5 1685.01,265.42 1687.42,271.56 1693.65,273.74"/>
<path fill="none" stroke="#739fd0" stroke-width="4.3" stroke-linecap="round" d="M1787.9,227.7 C1787.73,230.43 1787.87,238.15 1786.9,244.1 C1785.93,250.05 1784.03,257.77 1782.1,263.4 C1780.17,269.03 1777.55,273.88 1775.3,277.9 C1773.05,281.92 1770.68,284.13 1768.6,287.5 C1766.52,290.87 1763.77,296.33 1762.8,298.1"/>
<polygon fill="#739fd0" points="1789.2,226.05 1797.64,228.74 1788.98,236.05"/>
<polygon fill="#739fd0" points="1788.26,244.4 1796.07,248.6 1786.2,254.19"/>
<polygon fill="#739fd0" points="1783.95,262.54 1790.88,268.06 1780.18,271.8"/>
<polygon fill="#739fd0" points="1776.21,279.39 1781.47,286.52 1770.16,287.35"/>
<circle cx="1761.3" cy="299" r="13.8" fill="none" stroke="#739fd0" stroke-width="4.3"/>
<path fill="none" stroke="#231f20" stroke-width="3.4" d="M1750.3,317.7 C1749.25,315.92 1745.63,310.78 1744,307 C1742.37,303.22 1741.18,298.12 1740.5,295 C1739.82,291.88 1740.01,289.39 1739.91,288.27"/>
<polygon fill="#231f20" points="1739.3,281.3 1746.15,290.74 1739.95,288.77 1734.2,291.79"/>
<path fill="none" stroke="#231f20" stroke-width="3.4" d="M1783.1,295 C1783.42,296.5 1785.52,301 1785,304 C1784.48,307 1782.5,310.58 1780,313 C1777.5,315.42 1772.49,317.53 1770,318.5 C1767.51,319.47 1765.9,318.78 1765.08,318.83"/>
<polygon fill="#231f20" points="1758.1,319.3 1767.68,312.64 1765.58,318.8 1768.48,324.62"/>
<path fill="none" stroke="#231f20" stroke-width="2.8" d="M1763.6,222.3 C1764.5,220.58 1767.77,216.05 1769,212 C1770.23,207.95 1770.62,201.25 1771,198 C1771.38,194.75 1771.23,193.41 1771.28,192.49"/>
<polygon fill="#231f20" points="1771.6,186.2 1776.14,195.44 1771.26,192.94 1766.15,194.93"/>
<path fill="none" stroke="#231f20" stroke-width="3.2" d="M1792.5,210.3 C1794.25,210.75 1799.92,211.47 1803,213 C1806.08,214.53 1809.4,217.9 1811,219.5 C1812.6,221.1 1812.32,222.07 1812.59,222.58"/>
<polygon fill="#231f20" points="1815.8,228.8 1805.88,222.67 1812.36,222.14 1816.55,217.16"/>
<path fill="none" stroke="#231f20" stroke-width="3.2" d="M1802.2,224 C1802.83,226.33 1805.03,233.33 1806,238 C1806.97,242.67 1807.76,248.26 1808,252 C1808.24,255.74 1807.54,259.01 1807.45,260.41"/>
<polygon fill="#231f20" points="1807,267.4 1801.66,257.03 1807.49,259.92 1813.64,257.81"/>
<path fill="none" stroke="#231f20" stroke-width="2.2" d="M1729.5,299.2 C1724.58,297.58 1706.92,291.45 1700,289.5 C1693.08,287.55 1692.5,287.78 1688,287.5 C1683.5,287.22 1681,286.88 1673,287.8 C1665,288.72 1649.75,290.49 1640,293 C1630.25,295.51 1618.73,301.2 1614.48,302.83"/>
<polygon fill="#231f20" points="1608.6,305.1 1615.2,297.2 1614.9,302.67 1618.8,306.53"/>
<path fill="none" stroke="#231f20" stroke-width="2.2" d="M1767.9,340.1 C1765.08,337.67 1757.07,330.65 1751,325.5 C1744.93,320.35 1739.08,313.22 1731.5,309.2 C1723.92,305.18 1714.17,303.28 1705.5,301.4 C1696.83,299.52 1687.08,298.33 1679.5,297.9 C1671.92,297.47 1668.25,297.45 1660,298.8 C1651.75,300.15 1638.71,302.77 1630,306 C1621.29,309.23 1611.44,316.15 1607.73,318.18"/>
<polygon fill="#231f20" points="1602.2,321.2 1607.7,312.5 1608.12,317.96 1612.5,321.27"/>
<path fill="none" stroke="#231f20" stroke-width="2.2" d="M1751.6,343.7 C1749.87,341.75 1745.1,335.58 1741.2,332 C1737.3,328.42 1734.15,325.23 1728.2,322.2 C1722.25,319.17 1713.62,315.9 1705.5,313.8 C1697.38,311.7 1687.08,309.93 1679.5,309.6 C1671.92,309.27 1665.51,310.6 1660,311.8 C1654.49,313 1648.68,315.98 1646.41,316.82"/>
<polygon fill="#231f20" points="1640.5,319 1647.21,311.19 1646.83,316.66 1650.67,320.57"/>
<circle cx="1684.5" cy="323.6" r="4" fill="#000"/>
<text x="1690" y="327" font-family="'Liberation Sans', Arial, sans-serif" font-size="8" fill="#333">LD</text>
<ellipse cx="1659.8" cy="403.3" rx="77.6" ry="51.2" fill="none" stroke="#14233a" stroke-width="2.8" stroke-dasharray="2.7 2.6"/>
<polygon fill="#14233a" points="1737.2,406 1733.2,399 1737.2,400.75 1741.2,399"/>
<text x="1332.3" y="75.3" font-family="'Liberation Sans', Arial, sans-serif" font-size="38.2" fill="#111">c) Above-average FFDI</text>
<g transform="translate(1665.5,565) scale(1.02,1.008) translate(-1659.1,-104)">
<defs><clipPath id="dclipTop"><rect x="1300" y="104" width="720" height="400"/></clipPath>
<clipPath id="dclipMap"><ellipse cx="1659.1" cy="148" rx="258.3" ry="245.3"/></clipPath></defs>
<g clip-path="url(#dclipTop)">
<path fill="#74849d" fill-rule="evenodd" d="M1334.5,148 a327,313 0 1,0 654,0 a327,313 0 1,0 -654,0 Z M1363.6,148 a298.4,286.3 0 1,0 596.8,0 a298.4,286.3 0 1,0 -596.8,0 Z"/>
<g clip-path="url(#dclipMap)">
<polygon fill="#808080" points="1405.2,104.3 1441.4,104.3 1437,121.7 1437.8,140.5 1442.1,147.8 1445.7,165.1 1444.3,175.3 1440.7,181 1440.7,191.2 1446.4,201.3 1447.2,212.9 1448.6,223 1453.7,244.7 1454.4,256.3 1451.5,266.4 1445,260.6 1438,253 1430.5,241.8 1419,223 1410.3,201.3 1404.5,179.6 1401,165 1400,140 1401,120"/>
<polygon fill="#808080" points="1464.5,141.2 1470.3,152.1 1471.5,170 1473.2,189.7 1473.9,198.4 1468.9,202.7 1462.4,195.5 1458.7,186.8 1456.6,172.4 1455.8,163.7 1460.9,156.4"/>
<polygon fill="#808080" points="1716.9,156.7 1713.3,165.1 1712.7,172.3 1715.7,184.4 1718.1,196.4 1715.7,206.1 1716.9,212.1 1724.1,213.3 1733.8,212.1 1743.4,208.5 1757.9,206.1 1772.3,206.1 1779.6,208.5 1783.2,215.7 1784.4,224.2 1789.2,226.6 1792.8,235 1795.2,242.3 1802.5,244.7 1808.5,243.5 1820.6,232.6 1832.6,220.6 1842.3,206.1 1845.9,191.6 1843.5,174.7 1838.6,165.1 1837.4,148.2 1833.8,138.6 1832,127.7 1827.8,133.8 1824.2,145.8 1819.3,151.8 1815.7,148.2 1810.9,142.2 1808.5,136.2 1812.1,128.9 1806.1,124.1 1796.4,120.5 1788,119.3 1786.8,127.7 1779.6,131.3 1772.3,127.7 1765.1,132.5 1756.7,137.4 1751.8,143.4 1745.8,148.2 1732.5,150.6 1724.1,151.8"/>
<polygon fill="#808080" points="1796,248 1803,249 1804,258 1800,264.5 1795,260"/>
<polygon fill="#808080" points="1816.9,112.1 1820.6,104.3 1844.7,104.3 1850.7,113.3 1860.3,110.8 1866.4,107.2 1867.6,113.3 1859.1,116.9 1850.7,124.1 1856.7,131.3 1854.3,136.2 1845.9,126.5 1838.6,120.5 1827.8,118.1"/>
<polygon fill="#808080" points="1741,104.5 1748,105 1751,108.5 1745,107.5"/>
<polygon fill="#808080" points="1761.5,108 1768,105 1779,104.5 1778,107.5 1766,109.5 1762,111"/>
<polygon fill="#808080" points="1865,255 1864.5,265 1861,274 1853,281.5 1843,287.5 1832,293.5 1823,296.5 1821,293.5 1830,288 1840,282.5 1849,277 1856,271 1859.5,263 1861.5,256"/>
<polygon fill="#808080" points="1571.4,363.4 1573.3,349.2 1579,343.5 1581.8,334 1593.2,333.5 1611.3,333 1615.1,338.7 1625.5,333 1628.4,328.3 1638.8,324.5 1657.8,323.5 1678.7,325.4 1693,327.3 1712,329.2 1721.4,330.2 1731,335.9 1736.6,343.5 1738.5,354.9 1735.7,358.7 1719.5,360.6 1708.1,365.3 1697.7,368.2 1683.5,378.6 1702.5,375.8 1715.7,376.7 1717.6,381.5 1713.8,384.3 1702.5,385.3 1683.5,390 1659.7,391.9 1636,390 1626.5,386.2 1607.5,383.4 1588.5,379.6 1577.1,372"/>
<circle cx="1472" cy="124" r="1.3" fill="#808080"/>
<circle cx="1487" cy="165" r="1.1" fill="#808080"/>
<circle cx="1484" cy="162" r="0.9" fill="#808080"/>
<circle cx="1553" cy="299" r="1.3" fill="#808080"/>
<circle cx="1524" cy="291" r="0.9" fill="#808080"/>
<circle cx="1901" cy="199" r="1.2" fill="#808080"/>
<circle cx="1905" cy="196.5" r="1.1" fill="#808080"/>
<circle cx="1906" cy="177" r="0.9" fill="#808080"/>
<circle cx="1903" cy="208" r="0.9" fill="#808080"/>
<circle cx="1884" cy="240" r="0.9" fill="#808080"/>
<circle cx="1862" cy="247" r="0.9" fill="#808080"/>
<path fill="none" stroke="#808080" stroke-width="2" stroke-dasharray="5 1.5" d="M1870.5,116 C1876,128 1881,140 1885,151.4"/>
<path fill="none" stroke="#808080" stroke-width="1.6" stroke-dasharray="5 1.5" d="M1893,154.7 C1892,166 1891,175 1889.8,183.6"/>
<path fill="none" stroke="#808080" stroke-width="2.8" stroke-dasharray="5 1.5" d="M1878.6,190 C1880,195 1882,199 1883.4,202.9"/>
<path fill="none" stroke="#808080" stroke-width="1.5" stroke-dasharray="5 1.5" d="M1864,130.5 C1864.5,135 1865,139 1865.7,143.4"/>
<line x1="1421.3" y1="110.4" x2="1423.3" y2="121.5" stroke="#fff" stroke-width="1.3"/>
<line x1="1416.9" y1="132.5" x2="1421.1" y2="151.2" stroke="#fff" stroke-width="1.3"/>
<line x1="1427.9" y1="151.2" x2="1433.8" y2="169.9" stroke="#fff" stroke-width="1.3"/>
</g>
<ellipse cx="1659.1" cy="148" rx="258.3" ry="245.3" fill="none" stroke="#000" stroke-width="1.6"/>
</g>
</g>
<path fill="none" stroke="#dc4b4b" stroke-width="1.5" d="M1537.5,674.7 C1541.8,668.28 1552.3,655.45 1566.5,649 C1580.7,642.55 1605.28,635.75 1622.7,636 C1640.12,636.25 1658.12,645.17 1671,650.5 C1683.88,655.83 1692.77,662.37 1700,668 C1707.23,673.63 1713.62,676.22 1714.4,684.3 C1715.18,692.38 1710.43,708.38 1704.7,716.5 C1698.97,724.62 1688.3,729.78 1680,733 C1671.7,736.22 1663.1,736.42 1654.9,735.8 C1646.7,735.18 1645.53,734.67 1630.8,729.3 C1616.07,723.93 1581.52,710.57 1566.5,703.6 C1551.48,696.63 1545.53,692.32 1540.7,687.5 C1535.87,682.68 1533.2,681.12 1537.5,674.7 Z"/>
<ellipse cx="1647.7" cy="665" rx="31.5" ry="13.5" fill="none" stroke="#dc4b4b" stroke-width="5"/>
<ellipse cx="1741.7" cy="670.2" rx="15.5" ry="6" fill="#4e958c" style="mix-blend-mode:multiply" transform="rotate(-5 1741.7 670.2)"/>
<ellipse cx="1835.5" cy="680.5" rx="31" ry="16" fill="#4e958c" transform="rotate(-56 1835.5 680.5)"/>
<ellipse cx="1834" cy="679" rx="29.5" ry="15" fill="#294b49" transform="rotate(-56 1834 679)"/>
<ellipse cx="1804.5" cy="708.8" rx="20.5" ry="10" fill="rgb(143,88,42)" fill-opacity="0.72" transform="rotate(72 1804.5 708.8)"/>
<ellipse cx="1654.9" cy="768.7" rx="34" ry="15.7" fill="#c476a0"/>
<path fill="none" stroke="#231f20" stroke-width="2.6" d="M1479.6,763 C1483,758.33 1492.43,742.5 1500,735 C1507.57,727.5 1516.6,721.35 1525,718 C1533.4,714.65 1539.57,714.23 1550.4,714.9 C1561.23,715.57 1577.57,718.48 1590,722 C1602.43,725.52 1614.18,732.63 1625,736 C1635.82,739.37 1645.73,741.87 1654.9,742.2 C1664.07,742.53 1671.65,742.03 1680,738 C1688.35,733.97 1696.67,724.17 1705,718 C1713.33,711.83 1721.35,705.39 1730,701 C1738.65,696.61 1752.44,693.19 1756.93,691.63"/>
<polygon fill="#231f20" points="1764.2,689.1 1755.78,698.38 1756.41,691.81 1751.84,687.05"/>
<path fill="none" stroke="#231f20" stroke-width="3" d="M1487.7,769.5 C1490.58,765.42 1498.28,751.58 1505,745 C1511.72,738.42 1520.43,733.42 1528,730 C1535.57,726.58 1540.07,724.17 1550.4,724.5 C1560.73,724.83 1576.73,728.25 1590,732 C1603.27,735.75 1617.85,743.97 1630,747 C1642.15,750.03 1651.23,751.37 1662.9,750.2 C1674.57,749.03 1687.98,745.37 1700,740 C1712.02,734.63 1724.03,723.15 1735,718 C1745.97,712.85 1760.69,710.6 1765.83,709.12"/>
<polygon fill="#231f20" points="1773.9,706.8 1764.31,716.85 1765.25,709.29 1760.43,703.39"/>
<path fill="none" stroke="#231f20" stroke-width="3.4" d="M1494.1,780.8 C1497.58,776.83 1507.35,763.47 1515,757 C1522.65,750.53 1531.42,745.27 1540,742 C1548.58,738.73 1556.5,736.9 1566.5,737.4 C1576.5,737.9 1587.75,741.57 1600,745 C1612.25,748.43 1628.17,755.25 1640,758 C1651.83,760.75 1660.17,762.33 1671,761.5 C1681.83,760.67 1693.5,757.75 1705,753 C1716.5,748.25 1729.85,737.73 1740,733 C1750.15,728.27 1761.59,725.99 1765.91,724.59"/>
<polygon fill="#231f20" points="1773.9,722 1764.65,732.36 1765.34,724.78 1760.33,719.05"/>
<path fill="none" stroke="#231f20" stroke-width="4" d="M1507,790.4 C1510,786.67 1518.17,774.4 1525,768 C1531.83,761.6 1541.08,755.5 1548,752 C1554.92,748.5 1557.83,746.83 1566.5,747 C1575.17,747.17 1587.75,749.33 1600,753 C1612.25,756.67 1629.52,765.72 1640,769 C1650.48,772.28 1652.9,773.2 1662.9,772.7 C1672.9,772.2 1687.98,769.95 1700,766 C1712.02,762.05 1724.71,752.89 1735,749 C1745.29,745.11 1757.29,743.74 1761.74,742.69"/>
<polygon fill="#231f20" points="1770.6,740.6 1759.67,750.88 1761.11,742.84 1756.23,736.29"/>
<path fill="none" stroke="#231f20" stroke-width="5" d="M1523,797.7 C1525.83,794.08 1533.83,781.95 1540,776 C1546.17,770.05 1554.25,764.68 1560,762 C1565.75,759.32 1567,759.23 1574.5,759.9 C1582,760.57 1594.08,762.65 1605,766 C1615.92,769.35 1630.35,777.33 1640,780 C1649.65,782.67 1652.9,782.67 1662.9,782 C1672.9,781.33 1689.65,778.83 1700,776 C1710.35,773.17 1718.81,767.46 1725,765 C1731.19,762.54 1735.12,761.85 1737.14,761.22"/>
<polygon fill="#231f20" points="1746.5,758.3 1735.66,770.58 1736.48,761.42 1730.61,754.35"/>
<path fill="none" stroke="#231f20" stroke-width="2.4" d="M1724,702 C1724,699.17 1725.33,690.67 1724,685 C1722.67,679.33 1719.67,672.83 1716,668 C1712.33,663.17 1705.09,658.41 1702,656 C1698.91,653.59 1698.19,653.93 1697.43,653.51"/>
<polygon fill="#231f20" points="1691.9,650.5 1702.2,650.41 1697.83,653.73 1697.41,659.2"/>
<path fill="none" stroke="#739fd0" stroke-width="4.5" stroke-linecap="round" d="M1778.9,686.6 C1778.78,689.67 1778.52,698.6 1778.2,705 C1777.88,711.4 1777.45,718.33 1777,725 C1776.55,731.67 1776.07,738.72 1775.5,745 C1774.93,751.28 1773.92,759.75 1773.6,762.7"/>
<polygon fill="#739fd0" points="1780.35,683.63 1789.75,686.7 1779.97,694.62"/>
<polygon fill="#739fd0" points="1779.72,701.9 1789.06,705.15 1779.14,712.89"/>
<polygon fill="#739fd0" points="1778.66,720.41 1787.96,723.79 1777.92,731.38"/>
<polygon fill="#739fd0" points="1777.43,738.5 1786.65,742.07 1776.47,749.46"/>
<circle cx="1770" cy="767" r="18" fill="none" stroke="#739fd0" stroke-width="5"/>
<path fill="none" stroke="#dc4b4b" stroke-width="1.5" d="M1807.2,741.5 C1807.53,734.17 1808.47,728.72 1812,724 C1815.53,719.28 1819.77,714.42 1828.4,713.2 C1837.03,711.98 1854.37,714.23 1863.8,716.7 C1873.23,719.17 1880.58,724.75 1885,728 C1889.42,731.25 1892.37,730.7 1890.3,736.2 C1888.23,741.7 1879.32,755.03 1872.6,761 C1865.88,766.97 1857.37,769.67 1850,772 C1842.63,774.33 1835.07,775.67 1828.4,775 C1821.73,774.33 1813.53,773.58 1810,768 C1806.47,762.42 1806.87,748.83 1807.2,741.5 Z"/>
<ellipse cx="1835.5" cy="745" rx="21.5" ry="16.5" fill="none" stroke="#dc4b4b" stroke-width="5"/>
<path fill="none" stroke="#231f20" stroke-width="2.2" d="M1769.2,681.3 C1771.83,681.17 1780.37,679.72 1785,680.5 C1789.63,681.28 1794.17,683.58 1797,686 C1799.83,688.42 1801.17,693.5 1802,695"/>
<path fill="none" stroke="#231f20" stroke-width="2.4" d="M1789.5,661.9 C1790.58,663.25 1794.25,667.32 1796,670 C1797.75,672.68 1799.18,675.85 1800,678 C1800.82,680.15 1800.74,682.08 1800.89,682.89"/>
<polygon fill="#231f20" points="1801.9,688.4 1796.04,681.34 1800.82,682.5 1804.89,679.72"/>
<path fill="none" stroke="#231f20" stroke-width="2.4" d="M1806,700 C1806.5,701.67 1808.33,707 1809,710 C1809.67,713 1809.85,716.05 1810,718 C1810.15,719.95 1809.93,721.08 1809.92,721.7"/>
<polygon fill="#231f20" points="1809.8,727.3 1805.47,719.21 1809.93,721.3 1814.47,719.4"/>
<path fill="none" stroke="#231f20" stroke-width="2.2" d="M1893.8,725.6 C1889.83,723.33 1877.3,716.27 1870,712 C1862.7,707.73 1853.38,702.05 1850,700 C1846.62,697.95 1849.77,699.74 1849.72,699.69"/>
<polygon fill="#231f20" points="1846,695.5 1854.68,698.49 1849.99,699.98 1847.95,704.47"/>
<path fill="none" stroke="#231f20" stroke-width="2.2" d="M1890,731 C1886,728.5 1873,720 1866,716 C1859,712 1853.65,707.95 1848,707 C1842.35,706.05 1834.74,709.73 1832.09,710.27"/>
<polygon fill="#231f20" points="1826.6,711.4 1833.53,705.38 1832.48,710.19 1835.34,714.2"/>
<path fill="none" stroke="#231f20" stroke-width="2.2" d="M1858,707 C1857,705.33 1852.83,700.67 1852,697 C1851.17,693.33 1852.64,687.37 1853,685 C1853.36,682.63 1853.95,683.15 1854.14,682.78"/>
<polygon fill="#231f20" points="1856.7,677.8 1857.05,686.97 1853.96,683.14 1849.04,682.86"/>
<circle cx="1691.8" cy="787.1" r="4.5" fill="#000"/>
<text x="1697.5" y="790.5" font-family="'Liberation Sans', Arial, sans-serif" font-size="8" fill="#333">LD</text>
<path fill="none" stroke="#0b1a30" stroke-width="11" stroke-dasharray="11 10.4" d="M1753.3,866 A87.4,58 0 1,1 1745,837"/>
<polygon fill="#0b1a30" points="1753.3,859.5 1731,838.5 1742,836 1742,826 1760.9,829.4"/>
<text x="1332.3" y="546" font-family="'Liberation Sans', Arial, sans-serif" font-size="38.2" fill="#111">d) Below-average FFDI</text>
</svg></body></html>
